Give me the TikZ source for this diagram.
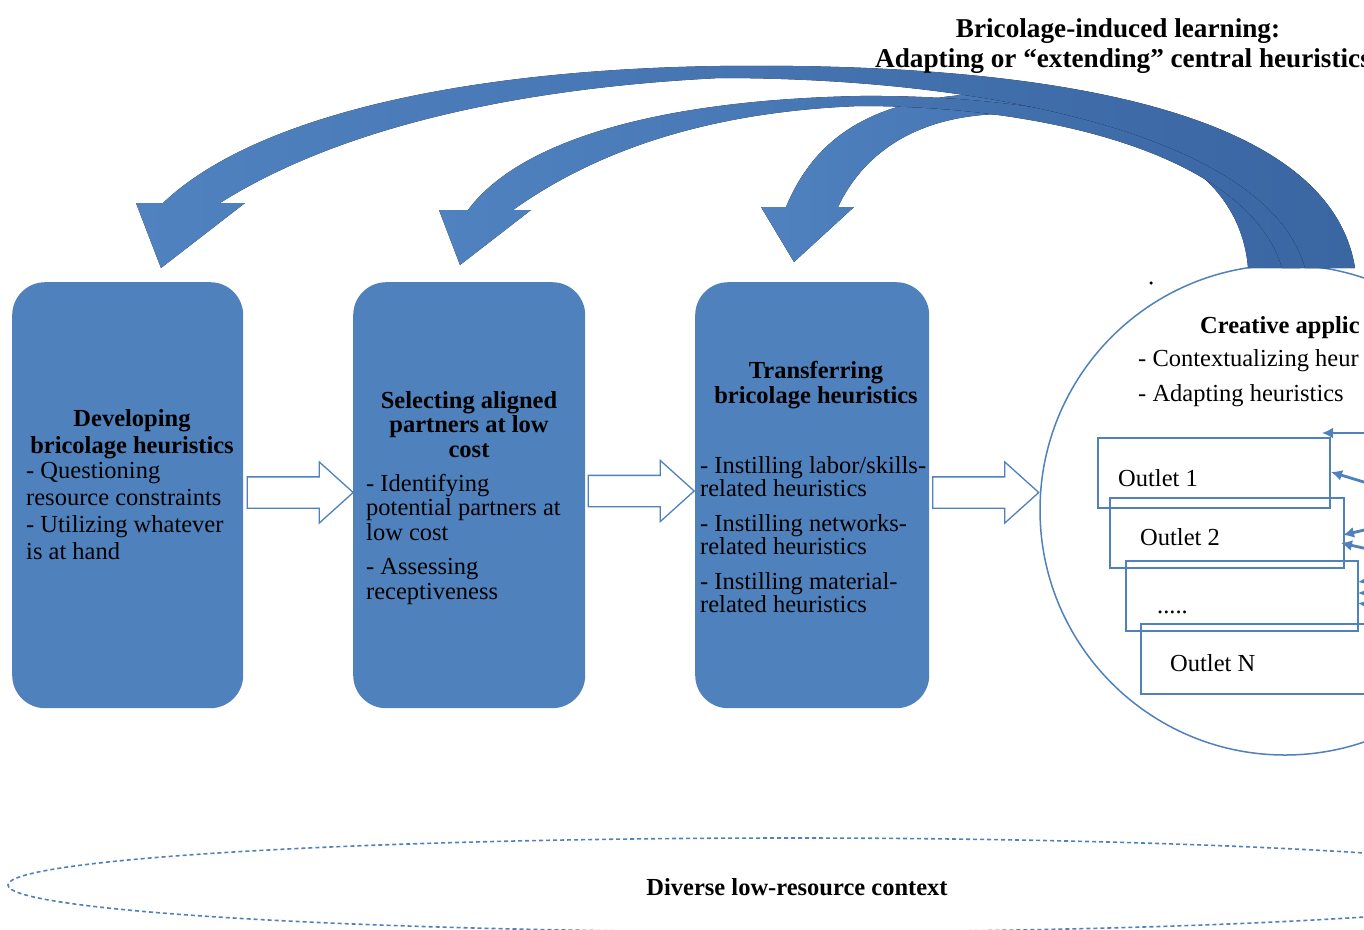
\documentclass[tikz,border=0pt]{standalone}
\usepackage{fontspec}
\setmainfont{Liberation Serif}
\usetikzlibrary{shapes.geometric,shapes.arrows,arrows.meta}
\definecolor{boxblue}{RGB}{79,129,189}
\definecolor{arrowA}{RGB}{80,130,192}
\definecolor{arrowB}{RGB}{58,102,162}
\definecolor{lineblue}{RGB}{79,129,189}
\begin{document}
\begin{tikzpicture}[x=1pt,y=-1pt,
  box/.style={fill=boxblue, rounded corners=33pt, inner sep=0pt, anchor=north west, minimum width=231pt, minimum height=426pt},
  txt/.style={font=\fontsize{24.5}{27}\selectfont, inner sep=0pt},
  btxt/.style={font=\fontsize{24.5}{27}\selectfont\bfseries, inner sep=0pt, align=center, anchor=north},
  hollow/.style={single arrow, draw=lineblue, fill=white, line width=1.3pt, inner xsep=0pt, inner ysep=15pt,
     minimum height=106pt, minimum width=60pt, single arrow head extend=15pt, single arrow tip angle=84},
  bigarrow/.style={left color=arrowA, middle color=arrowA, right color=arrowB},
  outlet/.style={draw=lineblue, line width=1.5pt, inner sep=0pt, anchor=north west, minimum width=232pt, minimum height=70pt},
  smallarr/.style={draw=lineblue, line width=2.8pt, -{Latex[length=11pt,width=11pt]}}
]
\clip (0,0) rectangle (1364,929);
\fill[white] (0,0) rectangle (1364,929);

% boxes
\node[box] (b1) at (12,282) {};
\node[box, minimum width=232pt] (b2) at (353,282) {};
\node[box, minimum width=234pt] (b3) at (695,282) {};

% box texts
\node[btxt] (t1) at (132,409) {Developing\\bricolage heuristics};
\node[txt, align=left, anchor=north west] (d1) at (26,462)
  {- Questioning\\resource constraints\\- Utilizing whatever\\is at hand};

\node[btxt, font=\fontsize{24.5}{24.5}\selectfont\bfseries] (t2) at (469,391) {Selecting aligned\\partners at low\\cost};
\node[txt, font=\fontsize{24.5}{24.5}\selectfont, align=left, anchor=north west] (d2) at (366,474)
  {- Identifying\\potential partners at\\low cost\\[10pt]- Assessing\\receptiveness};

\node[btxt, font=\fontsize{24.5}{25}\selectfont\bfseries] (t3) at (816,361) {Transferring\\bricolage heuristics};
\node[txt, font=\fontsize{24.5}{23.5}\selectfont, align=left, anchor=north west] (d3) at (700,456)
  {- Instilling labor/skills-\\related heuristics\\[11pt]- Instilling networks-\\related heuristics\\[11pt]- Instilling material-\\related heuristics};

% hollow arrows
\node[hollow] (h1) at (291.5,492.5) {};
\node[hollow] (h2) at (632.5,491) {};
\node[hollow] (h3) at (977,492.5) {};

% circle
\node[circle, draw=lineblue, line width=1.5pt, minimum size=490pt, inner sep=0pt] (circ) at (1285,510) {};
\node[circle, fill=black, inner sep=0pt, minimum size=3.5pt] (dot) at (1151,283) {};
\node[txt, font=\fontsize{24.5}{27}\selectfont\bfseries, anchor=base west] (cr) at (1200,333) {Creative applic};
\node[txt, anchor=base west] (c1) at (1138,366) {- Contextualizing heur};
\node[txt, anchor=base west] (c2) at (1138,401) {- Adapting heuristics};

% outlets
\node[outlet] (o1) at (1097,437) {};
\node[outlet, minimum width=234pt] (o2) at (1109,497) {};
\node[outlet] (o3) at (1125,560) {};
\node[outlet] (o4) at (1140,623) {};
\node[txt, anchor=base west] (o1t) at (1118,486) {Outlet 1};
\node[txt, anchor=base west] (o2t) at (1140,545) {Outlet 2};
\node[txt, anchor=base west] (o3t) at (1157,613) {.....};
\node[txt, anchor=base west] (o4t) at (1170,671) {Outlet N};

% small arrows into outlets
\coordinate (s1) at (1390,433);
\coordinate (s2) at (1390,490);
\coordinate (s3) at (1390,524);
\coordinate (s4) at (1390,554);
\coordinate (s5) at (1390,578);
\coordinate (s6) at (1390,593);
\coordinate (s7) at (1390,608);
\coordinate (e1) at (1322,433);
\coordinate (e2) at (1331,472);
\coordinate (e3) at (1343,535);
\coordinate (e4) at (1341,543);
\coordinate (e5) at (1358,582);
\coordinate (e6) at (1358,593);
\coordinate (e7) at (1358,603);
\foreach \i in {1,...,7} {\draw[smallarr] (s\i) -- (e\i);}

% big curved arrows
\fill[bigarrow] (786,207) .. controls (820,125) and (890,95) .. (1000,93)
  .. controls (1150,94) and (1280,160) .. (1300,268)
  -- (1248,268) .. controls (1240,170) and (1140,118) .. (1000,114)
  .. controls (920,116) and (865,150) .. (838,207)
  -- (854,207) -- (794,262) -- (761,207) -- cycle;
\fill[bigarrow] (468,210) .. controls (520,140) and (660,100) .. (860,96)
  .. controls (1080,94) and (1290,150) .. (1330,268)
  -- (1282,268) .. controls (1250,160) and (1060,106) .. (860,106)
  .. controls (700,112) and (590,155) .. (513,210)
  -- (531,210) -- (460,265) -- (439,210) -- cycle;
\fill[bigarrow] (163,203) .. controls (250,120) and (450,70) .. (720,66)
  .. controls (1050,62) and (1330,110) .. (1355,268)
  -- (1305,268) .. controls (1270,140) and (1000,78) .. (720,78)
  .. controls (480,90) and (320,140) .. (220,203)
  -- (245,203) -- (161,268) -- (136,203) -- cycle;

% title
\node[txt, font=\fontsize{27.2}{30}\selectfont\bfseries, anchor=base] (ti1) at (1118,37) {Bricolage-induced learning:};
\node[txt, font=\fontsize{27.2}{30}\selectfont\bfseries, anchor=base west] (ti2) at (875,67) {Adapting or “extending” central heuristics};

% context ellipse
\node[ellipse, draw=lineblue, line width=1.6pt, dash pattern=on 4pt off 3pt, minimum width=1566pt, minimum height=94pt, inner sep=0pt] (ctx) at (791,885) {};
\node[txt, font=\fontsize{24.5}{27}\selectfont\bfseries, anchor=base] (ctxt) at (797,895) {Diverse low-resource context};
\end{tikzpicture}
\end{document}
